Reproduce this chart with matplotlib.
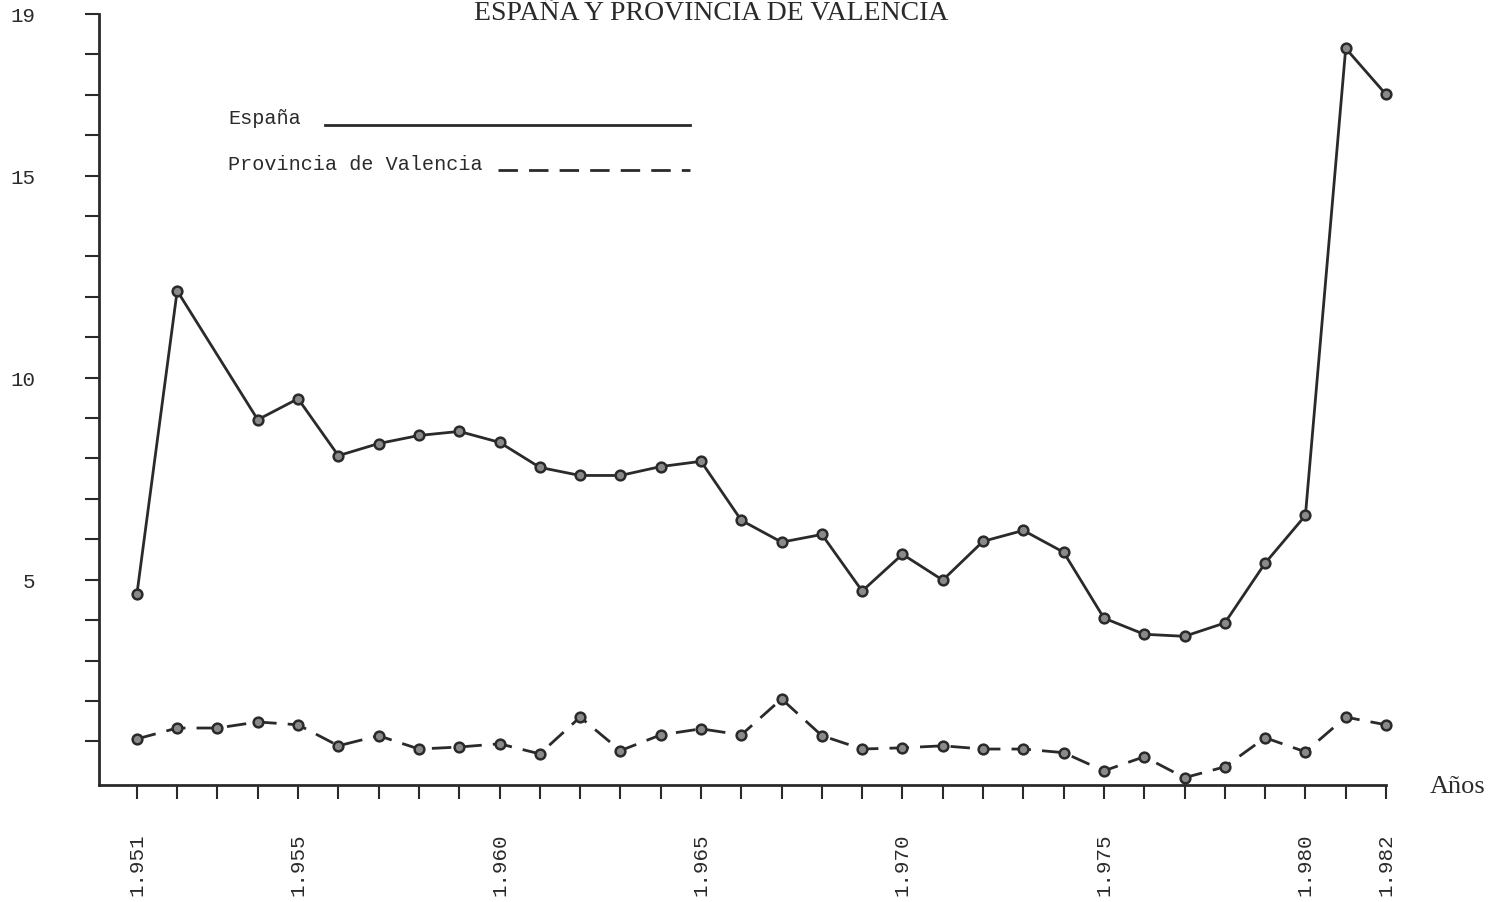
import numpy as np
import pandas as pd
import matplotlib
matplotlib.use("Agg")
import matplotlib.pyplot as plt
from matplotlib.lines import Line2D

# --- Data ---
years = list(range(1951, 1983))
espana = [4.64, 12.15, np.nan, 8.96, 9.48, 8.07, 8.37, 8.57, 8.67, 8.40,
          7.78, 7.58, 7.58, 7.80, 7.93, 6.47, 5.93, 6.12, 4.72, 5.63,
          4.99, 5.95, 6.22, 5.68, 4.05, 3.65, 3.60, 3.93, 5.41, 6.59,
          18.15, 17.01]
valencia = [1.06, 1.33, 1.33, 1.48, 1.41, 0.89, 1.14, 0.81, 0.86, 0.94,
            0.69, 1.60, 0.77, 1.16, 1.31, 1.16, 2.05, 1.14, 0.81, 0.84,
            0.89, 0.81, 0.81, 0.72, 0.27, 0.62, 0.10, 0.37, 1.09, 0.74,
            1.60, 1.41]
xtick_years = [1951, 1955, 1960, 1965, 1970, 1975, 1980, 1982]
ytick_vals = [5, 10, 15, 19]

df = pd.DataFrame({"year": years, "espana": espana, "valencia": valencia})
esp = df.dropna(subset=["espana"])

MONO = "Liberation Mono"
SERIF = "Liberation Serif"
INK = "#2a2a2a"

fig = plt.figure(figsize=(14.9, 9.03), dpi=100)
ax = fig.add_axes([99 / 1490, 1 - 786 / 903, (1386 - 99) / 1490, (786 - 15) / 903])

ax.plot(esp["year"], esp["espana"], color=INK, lw=2, marker="o", ms=7,
        mfc="#8a8a8a", mec=INK, mew=1.8, clip_on=False)
ax.plot(df["year"], df["valencia"], color=INK, lw=2, dashes=(7, 4),
        marker="o", ms=7, mfc="#8a8a8a", mec=INK, mew=1.8, clip_on=False)

ax.set_xlim(1950.06, 1982)
ax.set_ylim(-0.08, 19)

for s in ["top", "right"]:
    ax.spines[s].set_visible(False)
for s in ["left", "bottom"]:
    ax.spines[s].set_linewidth(2)
    ax.spines[s].set_color(INK)

ax.set_xticks(years)
ax.set_xticklabels(["1." + str(y)[1:] if y in xtick_years else "" for y in years],
                   rotation=90, fontfamily=MONO, fontsize=15, color=INK)
ax.set_yticks(range(0, 20))
ax.set_yticklabels([str(v) if v in ytick_vals else "" for v in range(0, 20)],
                   fontfamily=MONO, fontsize=15, color=INK)
ax.tick_params(axis="x", direction="out", length=10, width=1.5, pad=24, colors=INK)
ax.tick_params(axis="y", direction="out", length=10, width=1.5, pad=36, colors=INK)
ax.yaxis.get_majorticklines()[0].set_visible(False)

# title
fig.text(711 / 1490, 1 - 1 / 903, "ESPAÑA Y PROVINCIA DE VALENCIA", ha="center",
         va="top", fontfamily=SERIF, fontsize=20, color=INK)

# axis name
fig.text(1430 / 1490, 1 - 787 / 903, "Años", ha="left", va="center",
         fontfamily=SERIF, fontsize=19, color=INK)

# hand-drawn style legend
fig.text(228 / 1490, 1 - 118 / 903, "España", ha="left", va="center",
         fontfamily=MONO, fontsize=14.5, color=INK)
fig.text(228 / 1490, 1 - 164 / 903, "Provincia de Valencia", ha="left", va="center",
         fontfamily=MONO, fontsize=14.5, color=INK)
fig.add_artist(Line2D([325 / 1490, 690 / 1490], [1 - 126 / 903, 1 - 126 / 903],
                      color=INK, lw=2))
fig.add_artist(Line2D([498 / 1490, 690 / 1490], [1 - 171 / 903, 1 - 171 / 903],
                      color=INK, lw=2, dashes=(7, 4)))

fig.savefig("out.png", dpi=100)
